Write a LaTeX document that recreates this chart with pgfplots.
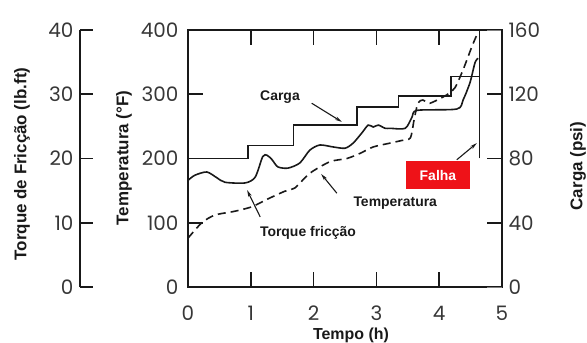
\documentclass[border=0pt]{standalone}
\usepackage{pgfplots}
\usepackage{pgfplotstable}
\pgfplotsset{compat=1.18}
\usepackage{fontspec}
\setmainfont{Liberation Sans}
\newfontfamily\tickfont{Poppins}
\usetikzlibrary{arrows.meta}
\definecolor{falhared}{RGB}{238,18,24}
\definecolor{tickgray}{RGB}{55,55,55}
\definecolor{ink}{RGB}{25,25,25}

\pgfplotstableread{
t tq
0 7.6
0.22 10.0
0.43 11.2
0.75 11.8
1.02 12.5
1.27 13.7
1.54 14.9
1.70 15.4
1.94 17.7
2.26 19.5
2.53 20.0
2.74 20.8
2.95 21.8
3.22 22.4
3.40 22.8
3.54 23.2
3.60 26.0
3.66 28.6
3.74 29.1
3.85 28.6
4.12 29.9
4.25 31.0
4.38 33.8
4.52 37.4
4.62 39.7
}\torquedata

\pgfplotstableread{
t T
0 166
0.11 174
0.30 179
0.46 170
0.59 163
0.91 162
1.07 171
1.19 203
1.26 205
1.34 198
1.43 187
1.59 185
1.78 193
1.94 213
2.10 221
2.31 218
2.50 216
2.63 224
2.77 240
2.87 252
2.95 249
3.03 252
3.14 247
3.22 247
3.46 247
3.57 265
3.65 275
4.28 277
4.38 291
4.49 318
4.57 349
4.62 356
}\tempdata

\pgfplotstableread{
t psi
0 80
0.96 88
1.68 101
2.69 112
3.35 119
4.19 131
4.64 131
}\cargadata

\begin{document}
\begin{tikzpicture}
\pgfplotsset{
  every axis/.append style={scale only axis, height=257bp,
    /pgf/number format/assume math mode=true,
    axis line style={line width=1.6bp, draw=ink},
    ticklabel style={font=\tickfont\fontsize{20}{20}\selectfont, text=tickgray}}
}
% torque axis (left, detached)
\begin{axis}[at={(-108bp,0)}, width=20bp, xmin=0, xmax=1, ymin=0, ymax=40,
  hide x axis, axis y line*=left, ytick={0,10,20,30,40}, tick align=inside,
  major tick length=13bp, clip=false,
  yticklabel style={xshift=-3bp}]
\addplot[ink, line width=1.6bp, forget plot] coordinates {(0,0) (0.65,0)};
\addplot[ink, line width=1.6bp, forget plot] coordinates {(0,10) (0.65,10)};
\addplot[ink, line width=1.6bp, forget plot] coordinates {(0,20) (0.65,20)};
\addplot[ink, line width=1.6bp, forget plot] coordinates {(0,30) (0.65,30)};
\addplot[ink, line width=1.6bp, forget plot] coordinates {(0,40) (0.65,40)};
\end{axis}
% main axis (temperature)
\begin{axis}[at={(0,0)}, width=314bp, xmin=0, xmax=5, ymin=0, ymax=400,
  xtick={0,1,2,3,4,5}, ytick={0,100,200,300,400},
  xtick pos=both, xticklabel pos=bottom, ytick pos=left, tick align=inside,
  major tick length=15bp,
  xticklabel style={inner sep=0pt, text depth=0pt, yshift=-19bp},
  yticklabel style={xshift=-6bp}, clip=false]
% inner tick marks
\addplot[ink, line width=1.6bp, forget plot] coordinates {(1,0) (1,23.3)};
\addplot[ink, line width=1.6bp, forget plot] coordinates {(2,0) (2,23.3)};
\addplot[ink, line width=1.6bp, forget plot] coordinates {(3,0) (3,23.3)};
\addplot[ink, line width=1.6bp, forget plot] coordinates {(4,0) (4,23.3)};
\addplot[ink, line width=1.6bp, forget plot] coordinates {(1,400) (1,376.7)};
\addplot[ink, line width=1.6bp, forget plot] coordinates {(2,400) (2,376.7)};
\addplot[ink, line width=1.6bp, forget plot] coordinates {(3,400) (3,376.7)};
\addplot[ink, line width=1.6bp, forget plot] coordinates {(4,400) (4,376.7)};
\addplot[ink, line width=1.6bp, forget plot] coordinates {(0,100) (0.24,100)};
\addplot[ink, line width=1.6bp, forget plot] coordinates {(0,200) (0.24,200)};
\addplot[ink, line width=1.6bp, forget plot] coordinates {(0,300) (0.24,300)};
% data
\addplot[ink, line width=1.6bp, smooth, tension=0.45] table[x=t, y=T] {\tempdata};
\addplot[ink, line width=1.6bp, smooth, tension=0.45, dash pattern=on 8bp off 5bp]
  table[x=t, y expr=10*\thisrow{tq}] {\torquedata};
% annotations
\node[font=\bfseries\fontsize{14}{14}\selectfont, ink] at (axis cs:1.465,296) {Carga};
\draw[ink, line width=1.1bp, -{Stealth[length=7bp,width=3.5bp]}] (axis cs:1.97,286) -- (axis cs:2.45,257);
\node[font=\bfseries\fontsize{14}{14}\selectfont, ink] at (axis cs:3.30,131) {Temperatura};
\draw[ink, line width=1.1bp, -{Stealth[length=7bp,width=3.5bp]}] (axis cs:2.37,146) -- (axis cs:2.12,176);
\node[font=\bfseries\fontsize{14}{14}\selectfont, ink] at (axis cs:1.91,84) {Torque fricção};
\draw[ink, line width=1.1bp, -{Stealth[length=7bp,width=3.5bp]}] (axis cs:1.15,109) -- (axis cs:0.94,151);
\node[fill=falhared, text=white, font=\bfseries\fontsize{14}{14}\selectfont,
  minimum width=64bp, minimum height=28bp, inner sep=0pt] at (axis cs:3.98,174) {Falha};
\draw[ink, line width=1.1bp, -{Stealth[length=7bp,width=3.5bp]}] (axis cs:4.28,198) -- (axis cs:4.60,224);
\end{axis}
% right axis (load)
\begin{axis}[at={(0,0)}, width=314bp, xmin=0, xmax=5, ymin=0, ymax=160,
  hide x axis, axis y line*=right, ytick={0,40,80,120,160}, tick align=inside,
  major tick length=15bp, clip=false,
  yticklabel style={xshift=3bp}]
\addplot[ink, line width=1.6bp, forget plot] coordinates {(5,40) (4.76,40)};
\addplot[ink, line width=1.6bp, forget plot] coordinates {(5,80) (4.76,80)};
\addplot[ink, line width=1.6bp, forget plot] coordinates {(5,120) (4.76,120)};
\addplot[ink, line width=1.6bp, const plot] table[x=t, y=psi] {\cargadata};
\addplot[ink, line width=1.6bp] coordinates {(4.64,80) (4.64,160)};
\end{axis}
% axis titles
\node[rotate=90, font=\bfseries\fontsize{17}{17}\selectfont, ink] at (-166bp,123bp) {Torque de Fricção (lb.ft)};
\node[rotate=90, font=\bfseries\fontsize{17}{17}\selectfont, ink] at (-64bp,129bp) {Temperatura (°F)};
\node[rotate=90, font=\bfseries\fontsize{17}{17}\selectfont, ink] at (390bp,121bp) {Carga (psi)};
\node[font=\bfseries\fontsize{16}{16}\selectfont, ink, inner sep=0pt] at (163bp,-48bp) {Tempo (h)};
\pgfresetboundingbox
\path[use as bounding box] (-188bp,-56bp) rectangle (399bp,287bp);
\end{tikzpicture}
\end{document}
